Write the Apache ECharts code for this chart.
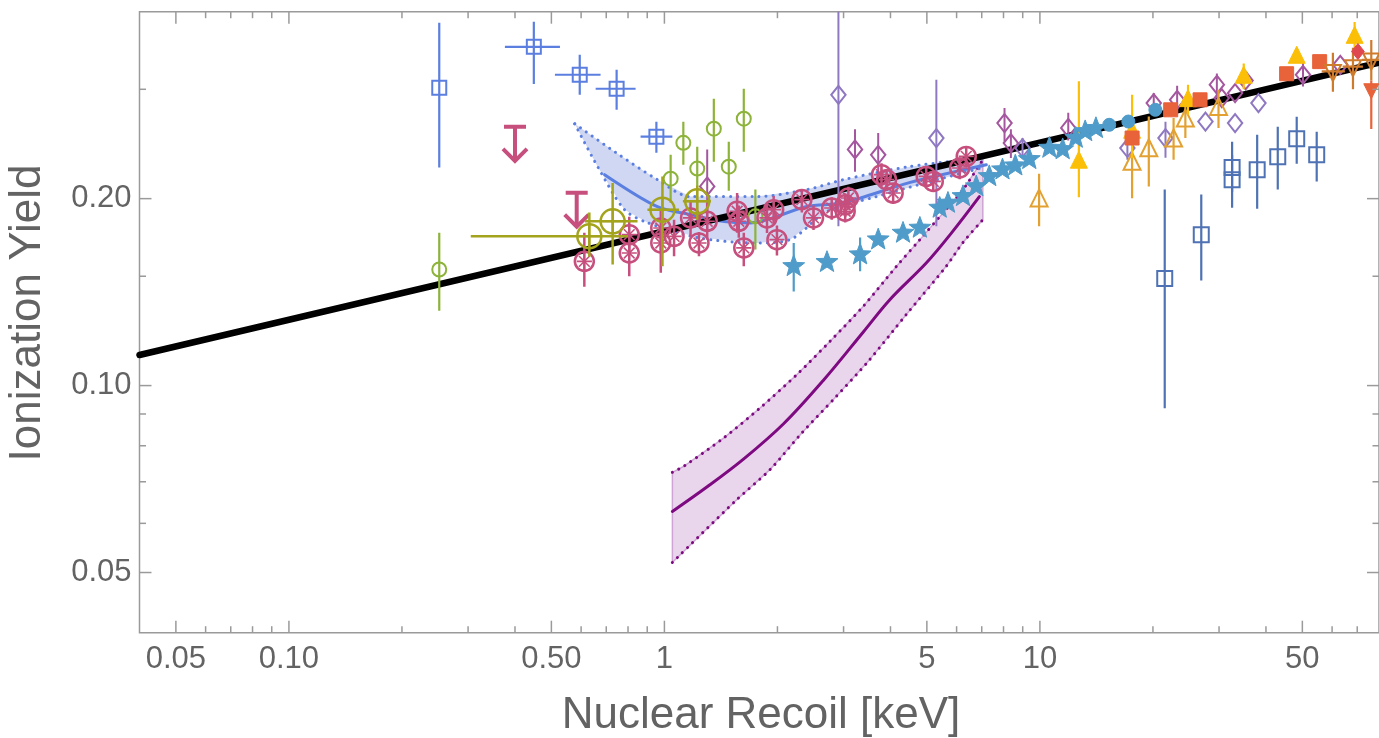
<!DOCTYPE html>
<html>
<head>
<meta charset="utf-8">
<script src="https://cdn.jsdelivr.net/npm/echarts@6/dist/echarts.min.js"></script>
<style>
  html, body { margin: 0; padding: 0; background: #ffffff; }
  #chart { width: 1379px; height: 738px; }
</style>
</head>
<body>
<div id="chart"></div>
<script>
// ---------- axes ----------
const xRange = [0.04, 80];
const yRange = [0.04, 0.4];
const xMajorTicks = [0.05, 0.1, 0.5, 1, 5, 10, 50];
const xTickLabels = ['0.05', '0.10', '0.50', '1', '5', '10', '50'];
const xMinorTicks = [0.06, 0.07, 0.08, 0.09, 0.2, 0.3, 0.4, 0.6, 0.7, 0.8, 0.9,
                     2, 3, 4, 6, 7, 8, 9, 20, 30, 40, 60, 70];
const yMajorTicks = [0.05, 0.1, 0.2];
const yTickLabels = ['0.05', '0.10', '0.20'];
const yMinorTicks = [0.06, 0.07, 0.08, 0.09, 0.15, 0.3];

// ---------- power-law fit ----------
const fitLine = [[0.04, 0.112], [80, 0.331]];

// ---------- blue model band ----------
const blueHiE  = [0.577, 0.737, 0.958, 1.172, 1.765, 2.395, 3.0, 4.49, 7.06];
const blueHi   = [0.264, 0.238, 0.2146, 0.2015, 0.2015, 0.2068, 0.2146, 0.2252, 0.2328];
const blueLoE  = [0.577, 0.664, 0.783, 0.901, 1.223, 1.765, 2.16, 2.706, 3.67, 4.98, 7.06];
const blueLo   = [0.264, 0.2252, 0.192, 0.183, 0.1731, 0.1697, 0.1718, 0.1906, 0.2015, 0.2122, 0.2244];
const blueMidE = [0.693, 0.958, 1.172, 1.443, 1.69, 2.395, 3.0, 4.49, 7.2];
const blueMid  = [0.2186, 0.1941, 0.1885, 0.1837, 0.1828, 0.1943, 0.1970, 0.2122, 0.2268];

// ---------- purple model band ----------
const purpleMidE = [1.05, 1.30, 1.627, 2.077, 2.652, 3.386, 3.984, 4.98, 5.81, 6.90];
const purpleMid  = [0.0627, 0.0687, 0.0762, 0.0868, 0.1020, 0.1220, 0.1375, 0.1575, 0.1760, 0.2015];
const purpleHiE  = [1.05, 1.128, 1.44, 1.80, 2.254, 2.762, 3.386, 4.15, 4.79, 5.52, 6.24, 7.05];
const purpleHi   = [0.0725, 0.0742, 0.0824, 0.0921, 0.1042, 0.1179, 0.1342, 0.1556, 0.1718, 0.1897, 0.2068, 0.2311];
const purpleLoE  = [1.05, 1.546, 1.914, 2.323, 2.848, 3.49, 4.41, 5.63, 6.24, 7.05];
const purpleLo   = [0.0519, 0.0652, 0.0733, 0.0839, 0.0956, 0.1094, 0.1302, 0.1556, 0.170, 0.185];

// ---------- measurements: [E, Y, yLow, yHigh, xLow, xHigh] ----------
const blueSquares = [
  [0.2514, 0.3018, 0.2244, 0.3838, null, null],
  [0.449, 0.3512, 0.306, 0.3853, 0.376, 0.527],
  [0.595, 0.3166, 0.2939, 0.3409, 0.511, 0.676],
  [0.746, 0.3006, 0.278, 0.3226, 0.656, 0.838],
  [0.952, 0.2517, 0.2371, 0.266, 0.864, 1.05]
];
const steelSquares = [
  [21.5, 0.1487, 0.0919, 0.2068],
  [26.9, 0.175, 0.1476, 0.203],
  [32.5, 0.2244, 0.205, 0.247],
  [32.5, 0.2146, 0.1934, 0.235],
  [37.9, 0.2227, 0.1927, 0.2535],
  [43.0, 0.2336, 0.2068, 0.2611],
  [48.3, 0.2497, 0.2277, 0.271],
  [54.6, 0.2353, 0.2131, 0.2563]
];
const greenCircles = [
  [0.2514, 0.1538, 0.132, 0.1763],
  [1.039, 0.2154, 0.197, 0.2353],
  [1.123, 0.246, 0.2268, 0.266],
  [1.223, 0.2236, 0.209, 0.2425],
  [1.354, 0.2592, 0.2293, 0.2897],
  [1.484, 0.2252, 0.206, 0.247],
  [1.627, 0.269, 0.2379, 0.3006],
  [1.747, 0.1873, 0.1656, 0.2068]
];
const oliveCircles = [
  [0.631, 0.174, 0.1613, 0.1899, 0.305, 0.80],
  [0.728, 0.1839, 0.1566, 0.212, 0.614, 0.848],
  [0.988, 0.192, 0.1556, 0.2172, 0.901, 1.094],
  [1.223, 0.198, 0.185, 0.21, 1.12, 1.33]
];
const pinkWheels = [
  [0.612, 0.1585, 0.1443, 0.1763], [0.806, 0.175, 0.163, 0.187],
  [0.806, 0.1635, 0.150, 0.176],   [0.978, 0.1794, 0.165, 0.192],
  [0.978, 0.1697, 0.152, 0.180],   [1.061, 0.1739, 0.1615, 0.185],
  [1.174, 0.1862, 0.174, 0.1985],  [1.236, 0.1697, 0.1615, 0.1768],
  [1.30, 0.1839, 0.1717, 0.1968],  [1.562, 0.1909, 0.1763, 0.2042],
  [1.578, 0.1839, 0.173, 0.195],   [1.627, 0.1666, 0.1556, 0.1763],
  [1.876, 0.1862, 0.176, 0.196],   [1.954, 0.192, 0.182, 0.202],
  [1.994, 0.1718, 0.162, 0.181],   [2.323, 0.1993, 0.190, 0.207],
  [2.495, 0.1862, 0.178, 0.195],   [2.79, 0.1932, 0.185, 0.201],
  [3.03, 0.1955, 0.187, 0.204],    [3.03, 0.1909, 0.183, 0.199],
  [3.09, 0.2005, 0.192, 0.209],    [3.785, 0.2186, 0.209, 0.228],
  [3.905, 0.2146, 0.206, 0.223],   [4.066, 0.2042, 0.196, 0.212],
  [4.98, 0.2172, 0.209, 0.225],    [5.2, 0.2132, 0.205, 0.221],
  [6.115, 0.2241, 0.215, 0.233],   [6.365, 0.2339, 0.225, 0.243]
];
const pinkLimits = [[0.40, 0.261], [0.584, 0.2045]];
const skyStars = [
  [2.21, 0.1556, 0.1418, 0.1697], [2.71, 0.158, null, null],
  [3.32, 0.1625, 0.1528, 0.1731], [3.71, 0.1718, null, null],
  [4.32, 0.1761, null, null],     [4.79, 0.1794, null, null],
  [5.41, 0.1932, null, null],     [5.69, 0.1968, null, null],
  [6.24, 0.2017, null, null],     [6.77, 0.2092, null, null],
  [7.33, 0.2172, null, null],     [7.95, 0.2227, null, null],
  [8.6, 0.226, null, null],       [9.37, 0.2314, null, null],
  [10.6, 0.2413, null, null],     [11.5, 0.240, null, null],
  [12.46, 0.2504, null, null],    [13.2, 0.2566, null, null],
  [14.1, 0.2596, null, null]
];
const skyDots = [[15.3, 0.263], [17.2, 0.2662], [20.3, 0.278]];
const goldTriangles = [
  [12.7, 0.2296, 0.2011, 0.309], [17.6, 0.2566, 0.2325, 0.2939],
  [24.8, 0.2885, 0.273, 0.305],  [34.9, 0.3146, 0.300, 0.330],
  [48.3, 0.3388, null, null],    [68.9, 0.3648, 0.345, 0.385]
];
const orangeTriangles = [
  [9.95, 0.1993, 0.1806, 0.2194], [17.6, 0.2283, 0.2003, 0.2679],
  [19.5, 0.240, 0.2093, 0.2713],  [22.7, 0.2488, 0.2311, 0.2697],
  [24.4, 0.2679, 0.2504, 0.290],  [29.9, 0.2798, 0.26, 0.2995]
];
const redSquares = [[17.6, 0.2504], [22.3, 0.278], [26.7, 0.2885], [45.4, 0.3178], [55.6, 0.3324]];
const lavenderDiamonds = [
  [2.907, 0.2939, 0.1805, 0.42], [5.3, 0.2504, 0.1805, 0.3109],
  [8.99, 0.2413, 0.2325, 0.2504], [17.1, 0.2413, 0.2311, 0.2535],
  [21.6, 0.2504, 0.2328, 0.266], [27.6, 0.2662, null, null],
  [33.1, 0.2647, null, null],    [38.2, 0.2851, null, null]
];
const magentaDiamonds = [
  [1.3, 0.2093, 0.178, 0.240],   [3.218, 0.240, 0.2209, 0.2586],
  [3.71, 0.2353, 0.2172, 0.2551], [8.05, 0.2647, 0.2472, 0.2798],
  [8.37, 0.2458, 0.2325, 0.2586], [11.9, 0.26, 0.248, 0.275],
  [20.1, 0.2851, 0.2737, 0.2958], [23.2, 0.2885, 0.275, 0.304],
  [29.6, 0.3051, 0.29, 0.318],   [30.5, 0.2904, null, null],
  [33.1, 0.2958, null, null],    [35.3, 0.31, null, null],
  [50.2, 0.3166, 0.303, 0.333],  [63.1, 0.3285, null, null]
];
const redDiamonds = [[70.3, 0.3451]];
const brownTriangles = [
  [60.3, 0.3205, 0.2972, 0.3434, 56.3, 64.9],
  [68.2, 0.3264, 0.30, 0.35, 64.0, 72.5],
  [76.3, 0.3346, 0.31, 0.36, 72.0, 80.0]
];
const redDownTriangles = [[76.3, 0.2995, 0.259, 0.31]];

// ---------- drawing helpers ----------
const AXIS_COLOR = '#9a9a9a';
const TEXT_COLOR = '#636363';
const FONT = '"Liberation Sans", Arial, Helvetica, sans-serif';

function zip(a, b) { return a.map((v, i) => [v, b[i]]); }

function shapeEls(shape, x, y, s, c) {
  const h = s / 2;
  const open = { fill: 'none', stroke: c, lineWidth: 2 };
  const solid = { fill: c, stroke: c, lineWidth: 1 };
  switch (shape) {
    case 'square':
      return [{ type: 'rect', shape: { x: x - h, y: y - h, width: s, height: s }, style: open }];
    case 'squareFill':
      return [{ type: 'rect', shape: { x: x - h, y: y - h, width: s, height: s }, style: solid }];
    case 'circle':
      return [{ type: 'circle', shape: { cx: x, cy: y, r: h }, style: open }];
    case 'circleFill':
      return [{ type: 'circle', shape: { cx: x, cy: y, r: h }, style: solid }];
    case 'wheel': {
      const els = [{ type: 'circle', shape: { cx: x, cy: y, r: h }, style: { fill: 'none', stroke: c, lineWidth: 2.5 } }];
      [0, 45, 90, 135].forEach(function (a) {
        const t = a * Math.PI / 180, dx = Math.cos(t) * h * 0.8, dy = Math.sin(t) * h * 0.8;
        els.push({ type: 'line', shape: { x1: x - dx, y1: y - dy, x2: x + dx, y2: y + dy }, style: { stroke: c, lineWidth: 1.6 } });
      });
      return els;
    }
    case 'crossCircle':
      return [
        { type: 'circle', shape: { cx: x, cy: y, r: h }, style: { fill: 'none', stroke: c, lineWidth: 2.5 } },
        { type: 'line', shape: { x1: x - h, y1: y, x2: x + h, y2: y }, style: { stroke: c, lineWidth: 2 } },
        { type: 'line', shape: { x1: x, y1: y - h, x2: x, y2: y + h }, style: { stroke: c, lineWidth: 2 } }
      ];
    case 'triangle':
    case 'triangleFill':
      return [{ type: 'polygon', shape: { points: [[x, y - s * 0.6], [x + h, y + s * 0.4], [x - h, y + s * 0.4]] },
                style: shape === 'triangle' ? open : solid }];
    case 'triangleDown':
    case 'triangleDownFill':
      return [{ type: 'polygon', shape: { points: [[x, y + s * 0.6], [x + h, y - s * 0.4], [x - h, y - s * 0.4]] },
                style: shape === 'triangleDown' ? open : solid }];
    case 'diamond':
    case 'diamondFill':
      return [{ type: 'polygon', shape: { points: [[x, y - h], [x + h * 0.8, y], [x, y + h], [x - h * 0.8, y]] },
                style: shape === 'diamond' ? open : solid }];
    case 'star': {
      const pts = [];
      for (let i = 0; i < 10; i++) {
        const r = i % 2 === 0 ? h : h * 0.42;
        const t = -Math.PI / 2 + i * Math.PI / 5;
        pts.push([x + r * Math.cos(t), y + r * Math.sin(t)]);
      }
      return [{ type: 'polygon', shape: { points: pts }, style: solid }];
    }
    case 'limit': {
      const st = { stroke: c, lineWidth: 4, fill: 'none', lineCap: 'butt' };
      return [
        { type: 'line', shape: { x1: x - 11, y1: y, x2: x + 11, y2: y }, style: st },
        { type: 'line', shape: { x1: x, y1: y, x2: x, y2: y + 34 }, style: st },
        { type: 'polyline', shape: { points: [[x - 12, y + 22], [x, y + 34], [x + 12, y + 22]] }, style: st }
      ];
    }
  }
  return [];
}

function pointSeries(rows, shape, size, color, barWidth) {
  const bw = barWidth || 2;
  return {
    type: 'custom',
    coordinateSystem: 'cartesian2d',
    clip: true,
    z: 5,
    data: rows.map(function (r) { return [r[0], r[1]]; }),
    renderItem: function (params, api) {
      const r = rows[params.dataIndex];
      const p = api.coord([r[0], r[1]]);
      const kids = [];
      if (r[2] != null) {
        const a = api.coord([r[0], r[2]]), b = api.coord([r[0], r[3]]);
        kids.push({ type: 'line', shape: { x1: a[0], y1: a[1], x2: b[0], y2: b[1] }, style: { stroke: color, lineWidth: bw } });
      }
      if (r[4] != null) {
        const a = api.coord([r[4], r[1]]), b = api.coord([r[5], r[1]]);
        kids.push({ type: 'line', shape: { x1: a[0], y1: a[1], x2: b[0], y2: b[1] }, style: { stroke: color, lineWidth: bw } });
      }
      shapeEls(shape, p[0], p[1], size, color).forEach(function (e) { kids.push(e); });
      return { type: 'group', children: kids };
    }
  };
}

function bandFill(hiE, hi, loE, lo, fill, edge) {
  return {
    type: 'custom',
    coordinateSystem: 'cartesian2d',
    clip: true,
    z: 2,
    data: [[hiE[0], hi[0]]],
    renderItem: function (params, api) {
      const pts = [];
      hiE.forEach(function (e, i) { pts.push(api.coord([e, hi[i]])); });
      for (let i = loE.length - 1; i >= 0; i--) pts.push(api.coord([loE[i], lo[i]]));
      return { type: 'polygon', shape: { points: pts }, style: { fill: fill, stroke: edge, lineWidth: edge ? 1.5 : 0 } };
    }
  };
}

function curve(data, color, width, dotted, z, smooth) {
  return {
    type: 'line',
    data: data,
    showSymbol: false,
    symbol: 'none',
    clip: true,
    smooth: smooth || 0,
    z: z || 3,
    silent: true,
    lineStyle: dotted
      ? { color: color, width: 3, type: [0.1, 7], cap: 'round' }
      : { color: color, width: width, cap: 'round', join: 'round' }
  };
}

// tick marks and tick labels drawn on the log scales
function xTickSeries() {
  const rows = xMajorTicks.map(function (v, i) { return [v, yRange[0], 1, i]; })
    .concat(xMinorTicks.map(function (v) { return [v, yRange[0], 0, -1]; }));
  return {
    type: 'custom', coordinateSystem: 'cartesian2d', clip: false, z: 10, silent: true,
    encode: { x: 0, y: 1 },
    data: rows,
    renderItem: function (params, api) {
      const row = rows[params.dataIndex];
      const b = api.coord([row[0], yRange[0]]), t = api.coord([row[0], yRange[1]]);
      const len = row[2] ? 12 : 6.5;
      const st = { stroke: AXIS_COLOR, lineWidth: 1.5 };
      const kids = [
        { type: 'line', shape: { x1: b[0], y1: b[1], x2: b[0], y2: b[1] - len }, style: st },
        { type: 'line', shape: { x1: t[0], y1: t[1], x2: t[0], y2: t[1] + len }, style: st }
      ];
      if (row[2]) {
        kids.push({ type: 'text', x: b[0], y: b[1] + 27,
          style: { text: xTickLabels[row[3]], fill: TEXT_COLOR, font: '31px ' + FONT, align: 'center', verticalAlign: 'middle' } });
      }
      return { type: 'group', children: kids };
    }
  };
}
function yTickSeries() {
  const rows = yMajorTicks.map(function (v, i) { return [xRange[0], v, 1, i]; })
    .concat(yMinorTicks.map(function (v) { return [xRange[0], v, 0, -1]; }));
  return {
    type: 'custom', coordinateSystem: 'cartesian2d', clip: false, z: 10, silent: true,
    encode: { x: 0, y: 1 },
    data: rows,
    renderItem: function (params, api) {
      const row = rows[params.dataIndex];
      const l = api.coord([xRange[0], row[1]]), r = api.coord([xRange[1], row[1]]);
      const len = row[2] ? 12 : 6.5;
      const st = { stroke: AXIS_COLOR, lineWidth: 1.5 };
      const kids = [
        { type: 'line', shape: { x1: l[0], y1: l[1], x2: l[0] + len, y2: l[1] }, style: st },
        { type: 'line', shape: { x1: r[0], y1: r[1], x2: r[0] - len, y2: r[1] }, style: st }
      ];
      if (row[2]) {
        kids.push({ type: 'text', x: l[0] - 8, y: l[1],
          style: { text: yTickLabels[row[3]], fill: TEXT_COLOR, font: '31px ' + FONT, align: 'right', verticalAlign: 'middle' } });
      }
      return { type: 'group', children: kids };
    }
  };
}

// ---------- colours ----------
const C_BLUE = '#5b7fe0', C_STEEL = '#4e72b3', C_GREEN = '#8db33a', C_OLIVE = '#a3a31d',
      C_PINK = '#c64f7d', C_SKY = '#4f9bc9', C_GOLD = '#fbbf08', C_ORANGE = '#e3a132',
      C_RED = '#e8623a', C_LAV = '#8f78c2', C_MAG = '#a4579f', C_BROWN = '#cf7b2c',
      C_PURPLE = '#7d0a80';

const chart = echarts.init(document.getElementById('chart'), null, { renderer: 'canvas' });
chart.setOption({
  animation: false,
  backgroundColor: '#ffffff',
  grid: { left: 139.5, top: 11.7, right: -5.5, bottom: 105.3, show: true, borderColor: AXIS_COLOR, borderWidth: 1.5, backgroundColor: 'transparent' },
  xAxis: { type: 'log', logBase: 10, min: xRange[0], max: xRange[1],
           axisLine: { show: false }, axisTick: { show: false }, axisLabel: { show: false }, splitLine: { show: false } },
  yAxis: { type: 'log', logBase: 10, min: yRange[0], max: yRange[1],
           axisLine: { show: false }, axisTick: { show: false }, axisLabel: { show: false }, splitLine: { show: false } },
  graphic: [
    { type: 'text', x: 761, y: 716, style: { text: 'Nuclear Recoil [keV]', fill: TEXT_COLOR, font: '44px ' + FONT, align: 'center', verticalAlign: 'middle' } },
    { type: 'text', x: 28, y: 313, rotation: Math.PI / 2, style: { text: 'Ionization Yield', fill: TEXT_COLOR, font: '44px ' + FONT, align: 'center', verticalAlign: 'middle' } }
  ],
  series: [
    // model bands
    bandFill(purpleHiE, purpleHi, purpleLoE, purpleLo, 'rgba(150,50,160,0.2)', 'rgba(170,100,180,0.5)'),
    bandFill(blueHiE, blueHi, blueLoE, blueLo, 'rgba(110,130,215,0.32)', null),
    curve(zip(purpleHiE, purpleHi), C_PURPLE, 3, true, 3, 0.3),
    curve(zip(purpleLoE, purpleLo), C_PURPLE, 3, true, 3, 0.3),
    curve(zip(purpleMidE, purpleMid), C_PURPLE, 3, false, 3, 0.35),
    curve(zip(blueHiE, blueHi), C_BLUE, 3, true, 3, 0.3),
    curve(zip(blueLoE, blueLo), C_BLUE, 3, true, 3, 0.3),
    curve(zip(blueMidE, blueMid), C_BLUE, 3, false, 3, 0.3),
    // power-law fit
    curve(fitLine, '#000000', 6.5, false, 4),
    // measurements
    pointSeries(steelSquares, 'square', 15, C_STEEL, 2.2),
    pointSeries(blueSquares, 'square', 14, C_BLUE, 2.2),
    pointSeries(greenCircles, 'circle', 14, C_GREEN, 2.2),
    pointSeries(lavenderDiamonds, 'diamond', 18, C_LAV, 2),
    pointSeries(magentaDiamonds, 'diamond', 18, C_MAG, 2),
    pointSeries(orangeTriangles, 'triangle', 17, C_ORANGE, 2.2),
    pointSeries(goldTriangles, 'triangleFill', 17, C_GOLD, 2.2),
    pointSeries(redSquares, 'squareFill', 14, C_RED, 2),
    pointSeries(skyStars, 'star', 23, C_SKY, 2.2),
    pointSeries(skyDots, 'circleFill', 13, C_SKY, 2),
    pointSeries(pinkWheels, 'wheel', 19, C_PINK, 2.5),
    pointSeries(pinkLimits, 'limit', 20, C_PINK, 2),
    pointSeries(oliveCircles, 'crossCircle', 24, C_OLIVE, 2.5),
    pointSeries(brownTriangles, 'triangleDown', 16, C_BROWN, 2.2),
    pointSeries(redDownTriangles, 'triangleDownFill', 15, C_RED, 2.2),
    pointSeries(redDiamonds, 'diamondFill', 16, '#e0484f', 2),
    // ticks and tick labels
    xTickSeries(),
    yTickSeries()
  ]
});
</script>
</body>
</html>
